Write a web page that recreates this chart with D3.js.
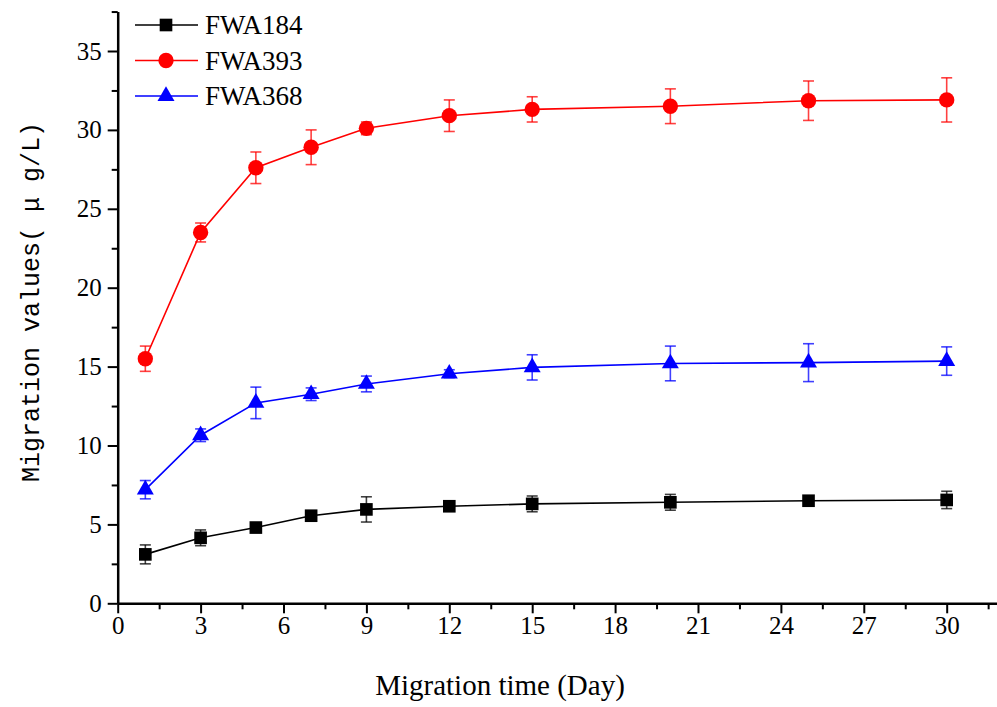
<!DOCTYPE html>
<html>
<head>
<meta charset="utf-8">
<script src="https://cdn.jsdelivr.net/npm/d3@7"></script>
<style>
  body { margin: 0; background: #fff; }
  svg { display: block; }
</style>
</head>
<body>
<script>
// data
var days = [1, 3, 5, 7, 9, 12, 15, 20, 25, 30];
var seriesNames = ["FWA184", "FWA393", "FWA368"];
var fwa184 = [3.1, 4.15, 4.8, 5.55, 5.95, 6.15, 6.3, 6.4, 6.5, 6.55];
var fwa184Err = [0.6, 0.5, 0.3, 0.2, 0.8, 0.3, 0.5, 0.5, 0.2, 0.55];
var fwa393 = [15.5, 23.5, 27.6, 28.9, 30.1, 30.9, 31.3, 31.5, 31.85, 31.9];
var fwa393Err = [0.8, 0.6, 1.0, 1.1, 0.4, 1.0, 0.8, 1.1, 1.25, 1.4];
var fwa368 = [7.2, 10.65, 12.7, 13.25, 13.9, 14.55, 14.95, 15.2, 15.25, 15.35];
var fwa368Err = [0.58, 0.4, 1.0, 0.4, 0.5, 0.25, 0.8, 1.1, 1.2, 0.9];
var xMajorTicks = [0, 3, 6, 9, 12, 15, 18, 21, 24, 27, 30];
var yMajorTicks = [0, 5, 10, 15, 20, 25, 30, 35];

var width = 997, height = 707;
var serif = "Liberation Serif";

var series = [
    {name: seriesNames[0], values: fwa184, err: fwa184Err, color: "#000000", symbol: d3.symbolSquare, size: 160},
    {name: seriesNames[1], values: fwa393, err: fwa393Err, color: "#ff0000", symbol: d3.symbolCircle, size: 185},
    {name: seriesNames[2], values: fwa368, err: fwa368Err, color: "#0000ff", symbol: d3.symbolTriangle, size: 125}
];

var x = d3.scaleLinear().domain([0, 32]).range([117.7, 117.7 + 32 * 27.633]);
var y = d3.scaleLinear().domain([0, 37.5]).range([603.3, 603.3 - 37.5 * 15.78]);

var svg = d3.select("body").append("svg")
    .attr("width", width)
    .attr("height", height);

// minor ticks
svg.append("g")
    .attr("transform", "translate(0," + y(0) + ")")
    .call(d3.axisBottom(x).tickValues(d3.range(1.5, 32, 3)).tickSize(6).tickFormat(""))
    .call(function (g) { g.select(".domain").remove(); })
    .selectAll("line").attr("stroke-width", 2);

svg.append("g")
    .attr("transform", "translate(" + x(0) + ",0)")
    .call(d3.axisLeft(y).tickValues(d3.range(2.5, 38, 5)).tickSize(6).tickFormat(""))
    .call(function (g) { g.select(".domain").remove(); })
    .selectAll("line").attr("stroke-width", 2);

// major axes
var xAxis = svg.append("g")
    .attr("transform", "translate(0," + y(0) + ")")
    .call(d3.axisBottom(x).tickValues(xMajorTicks).tickSize(10).tickSizeOuter(0).tickPadding(3))
    .attr("font-family", serif)
    .attr("font-size", 25);
xAxis.select(".domain").attr("stroke-width", 2.5);
xAxis.selectAll(".tick line").attr("stroke-width", 2);

var yAxis = svg.append("g")
    .attr("transform", "translate(" + x(0) + ",0)")
    .call(d3.axisLeft(y).tickValues(yMajorTicks).tickSize(10).tickSizeOuter(0).tickPadding(6))
    .attr("font-family", serif)
    .attr("font-size", 25);
yAxis.select(".domain").attr("stroke-width", 2.5);
yAxis.selectAll(".tick line").attr("stroke-width", 2);

// axis titles
svg.append("text")
    .attr("x", 500)
    .attr("y", 695)
    .attr("text-anchor", "middle")
    .attr("font-family", serif)
    .attr("font-size", 29)
    .text("Migration time (Day)");

svg.append("text")
    .attr("transform", "translate(39," + 302 + ") rotate(-90)")
    .attr("text-anchor", "middle")
    .attr("font-family", "Liberation Mono")
    .attr("font-size", 25)
    .text("Migration values( \u03bc g/L)");

// series
var line = d3.line()
    .x(function (d) { return x(d.day); })
    .y(function (d) { return y(d.v); });

series.forEach(function (s) {
    var pts = days.map(function (d, i) { return {day: d, v: s.values[i], e: s.err[i]}; });
    var g = svg.append("g");

    g.append("path")
        .datum(pts)
        .attr("fill", "none")
        .attr("stroke", s.color)
        .attr("stroke-width", 1.6)
        .attr("d", line);

    var eb = g.selectAll(".err")
        .data(pts)
        .enter().append("g")
        .attr("stroke", s.color)
        .attr("stroke-opacity", 0.75)
        .attr("stroke-width", 1.6);
    eb.append("line")
        .attr("x1", function (d) { return x(d.day); })
        .attr("x2", function (d) { return x(d.day); })
        .attr("y1", function (d) { return y(d.v - d.e); })
        .attr("y2", function (d) { return y(d.v + d.e); });
    eb.append("line")
        .attr("x1", function (d) { return x(d.day) - 5.5; })
        .attr("x2", function (d) { return x(d.day) + 5.5; })
        .attr("y1", function (d) { return y(d.v + d.e); })
        .attr("y2", function (d) { return y(d.v + d.e); });
    eb.append("line")
        .attr("x1", function (d) { return x(d.day) - 5.5; })
        .attr("x2", function (d) { return x(d.day) + 5.5; })
        .attr("y1", function (d) { return y(d.v - d.e); })
        .attr("y2", function (d) { return y(d.v - d.e); });

    g.selectAll(".pt")
        .data(pts)
        .enter().append("path")
        .attr("transform", function (d) { return "translate(" + x(d.day) + "," + y(d.v) + ")"; })
        .attr("d", d3.symbol().type(s.symbol).size(s.size))
        .attr("fill", s.color);
});

// legend
var legend = svg.append("g");
series.forEach(function (s, i) {
    var ly = 25 + i * 35.5;
    legend.append("line")
        .attr("x1", 135).attr("x2", 198)
        .attr("y1", ly).attr("y2", ly)
        .attr("stroke", s.color)
        .attr("stroke-width", 1.6);
    legend.append("path")
        .attr("transform", "translate(166," + ly + ")")
        .attr("d", d3.symbol().type(s.symbol).size(s.size))
        .attr("fill", s.color);
    legend.append("text")
        .attr("x", 205)
        .attr("y", ly + 9)
        .attr("font-family", serif)
        .attr("font-size", 27)
        .text(s.name);
});
</script>
</body>
</html>
